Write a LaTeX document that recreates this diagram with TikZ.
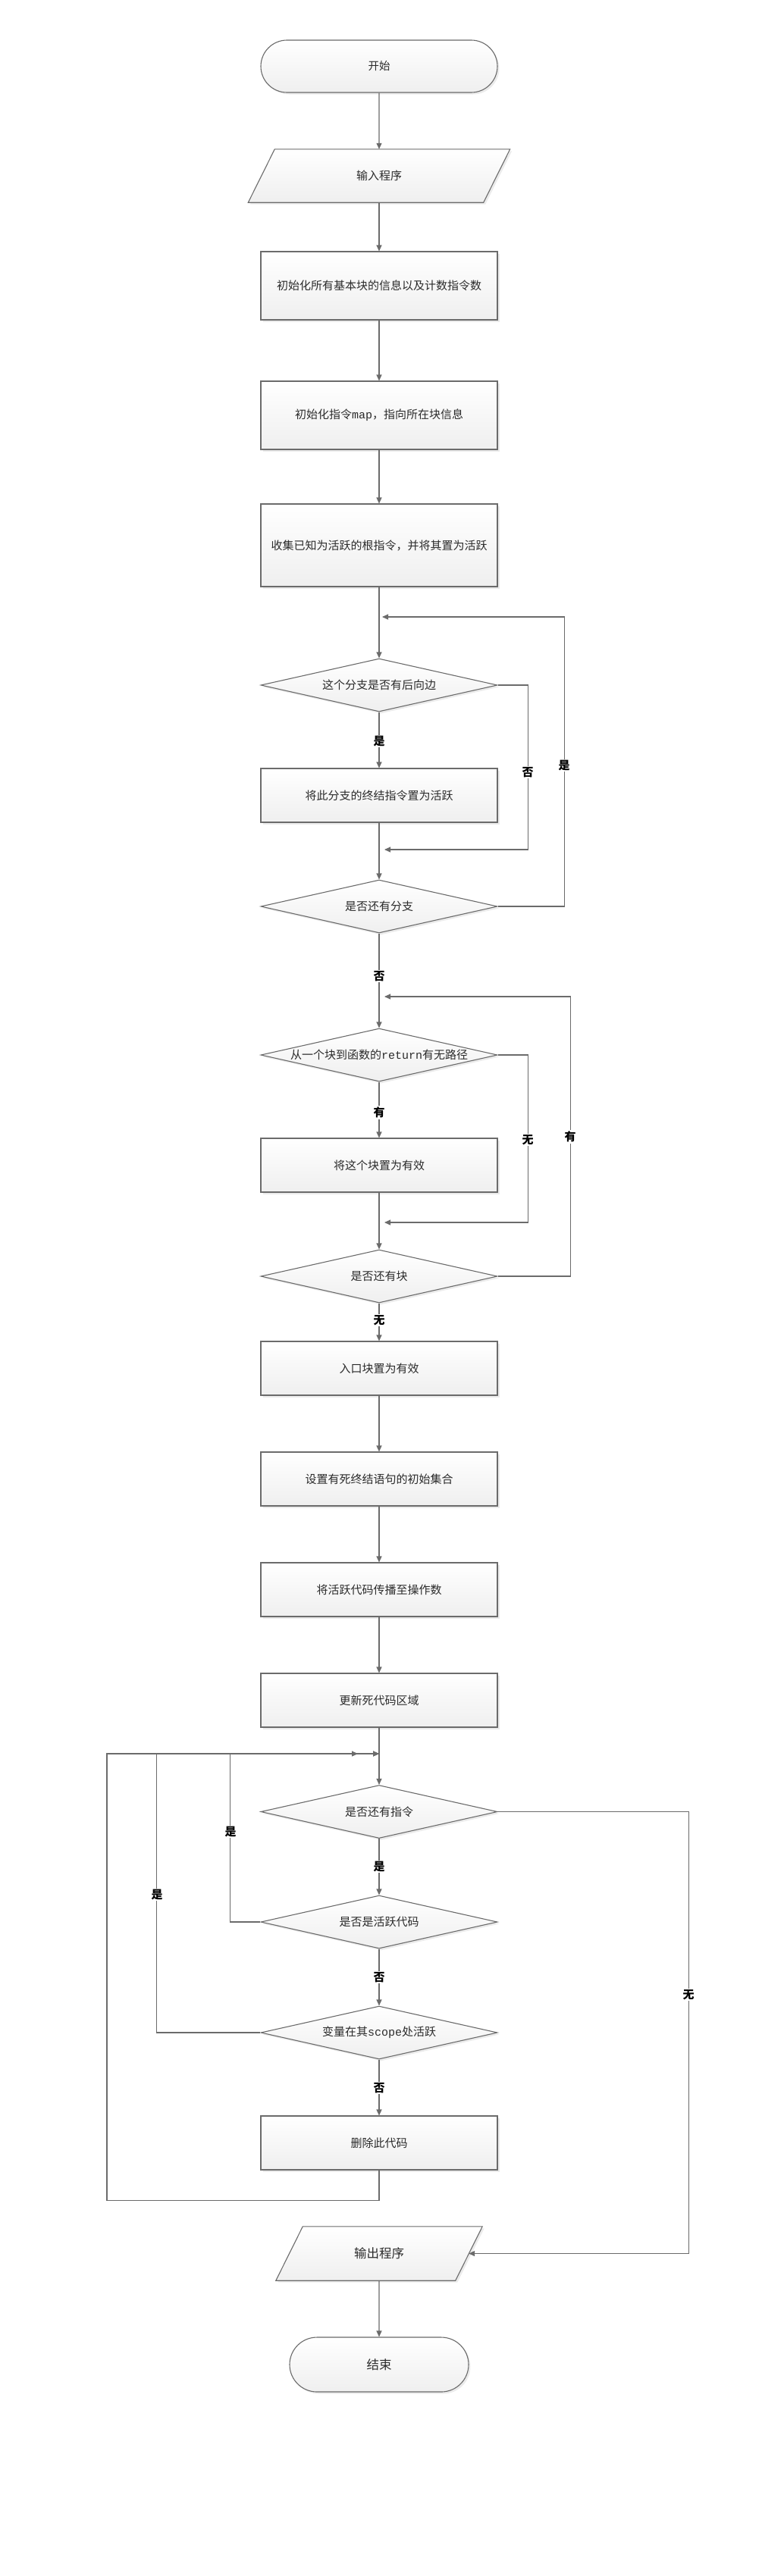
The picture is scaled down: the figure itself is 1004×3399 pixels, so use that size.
\documentclass[tikz,border=0pt]{standalone}
\usepackage{fontspec}
\setmainfont{Noto Sans CJK SC}
\newfontfamily\latmono{Liberation Mono}
\usetikzlibrary{shapes.geometric,shapes.misc,arrows.meta,shadows}
\definecolor{lc}{HTML}{6B6B6B}
\definecolor{fb}{HTML}{EFEFEF}
\definecolor{tc}{HTML}{2B2B2B}
\pgfdeclarelayer{background}
\pgfsetlayers{background,main}
\tikzset{
  look/.style={draw=lc, line width=1.1pt, top color=white, bottom color=fb,
    drop shadow={shadow xshift=2.5pt, shadow yshift=-2.5pt, fill=black, opacity=0.08}},
  base/.style={look, text=tc, font=\fontsize{15}{18}\selectfont, inner sep=0pt},
  proc/.style={base, rectangle, minimum width=312pt, minimum height=71pt},
  dec/.style={base, diamond, aspect=4.46, minimum width=312pt, minimum height=70pt},
  term/.style={base, rounded rectangle, minimum height=70pt},
  iotext/.style={rectangle, text=tc, font=\fontsize{15}{18}\selectfont, inner sep=0pt, minimum height=70pt},
  arr/.style={draw=lc, line width=1.1pt, -{Triangle[length=8pt,width=7pt]}},
  lbl/.style={fill=white, text=black, font=\fontsize{15}{17}\selectfont\bfseries, inner sep=1.5pt},
}
\newcommand{\ioshape}[2]{%
  \begin{pgfonlayer}{background}
  \path[look] (#1.north west) -- ([xshift=#2]#1.north east) -- (#1.south east)
     -- ([xshift=-#2]#1.south west) -- cycle;
  \end{pgfonlayer}}
\begin{document}
\begin{tikzpicture}[x=1pt,y=-1pt]
\begin{pgfonlayer}{background}
\fill[white] (0,0) rectangle (1004,3399);
\end{pgfonlayer}
\useasboundingbox (0,0) rectangle (1004,3399);

% nodes
\node[term, minimum width=312pt, minimum height=69pt, font=\fontsize{14.5}{17}\selectfont] (start) at (500,87.5) {开始};
\node[iotext, minimum width=275pt] (in) at (500,232) {输入程序};
\ioshape{in}{35pt}
\node[proc, minimum height=90pt] (b1) at (500,377) {初始化所有基本块的信息以及计数指令数};
\node[proc, minimum height=90pt] (b2) at (500,548) {初始化指令{\latmono map}，指向所在块信息};
\node[proc, minimum height=109pt] (b3) at (500,719.5) {收集已知为活跃的根指令，并将其置为活跃};
\node[dec] (d1) at (500,904) {这个分支是否有后向边};
\node[proc] (b4) at (500,1049.5) {将此分支的终结指令置为活跃};
\node[dec] (d2) at (500,1196) {是否还有分支};
\node[dec] (d3) at (500,1392) {从一个块到函数的{\latmono return}有无路径};
\node[proc] (b5) at (500,1537.5) {将这个块置为有效};
\node[dec] (d4) at (500,1684) {是否还有块};
\node[proc] (b6) at (500,1805.5) {入口块置为有效};
\node[proc] (b7) at (500,1951.5) {设置有死终结语句的初始集合};
\node[proc] (b8) at (500,2097.5) {将活跃代码传播至操作数};
\node[proc] (b9) at (500,2243.5) {更新死代码区域};
\node[dec] (d5) at (500,2390.5) {是否还有指令};
\node[dec] (d6) at (500,2536) {是否是活跃代码};
\node[dec] (d7) at (500,2682) {变量在其{\latmono scope}处活跃};
\node[proc] (b10) at (500,2827.5) {删除此代码};
\node[iotext, minimum width=201pt, minimum height=71pt, font=\fontsize{16.5}{19}\selectfont] (out) at (500,2973.5) {输出程序};
\ioshape{out}{35.5pt}
\node[term, minimum width=236pt, minimum height=72pt, font=\fontsize{16.5}{19}\selectfont] (end) at (500,3120) {结束};

% free ends
\coordinate (j1) at (504,814);
\coordinate (j2) at (507,1121);
\coordinate (j3) at (507,1315);
\coordinate (j4) at (507,1613);
\coordinate (m1) at (472,2314);
\coordinate (m2) at (500,2314);
\coordinate (oe) at ([xshift=17.5pt]out.east);

% main flow
\draw[arr] (start) -- (in);
\draw[arr] (in) -- (b1);
\draw[arr] (b1) -- (b2);
\draw[arr] (b2) -- (b3);
\draw[arr] (b3) -- (d1);
\draw[arr] (d1) -- (b4);
\draw[arr] (b4) -- (d2);
\draw[arr] (d2) -- (d3);
\draw[arr] (d3) -- (b5);
\draw[arr] (b5) -- (d4);
\draw[arr] (d4) -- (b6);
\draw[arr] (b6) -- (b7);
\draw[arr] (b7) -- (b8);
\draw[arr] (b8) -- (b9);
\draw[arr] (b9) -- (d5);
\draw[arr] (d5) -- (d6);
\draw[arr] (d6) -- (d7);
\draw[arr] (d7) -- (b10);
\draw[arr] (out) -- (end);

% loops
\draw[arr] (d1.east) -- ++(40,0) |- (j2);
\draw[arr] (d2.east) -- ++(88,0) |- (j1);
\draw[arr] (d3.east) -- ++(40,0) |- (j4);
\draw[arr] (d4.east) -- ++(96,0) |- (j3);
\draw[arr] (b10.south) -- ++(0,40) -- ++(-359,0) |- (m1);
\draw[arr] (d6.west) -- ++(-40,0) |- (m2);
\draw[arr] (d7.west) -- ++(-137,0) |- (m2);
\draw[arr] (d5.east) -- ++(252,0) |- (oe);

% labels
\node[lbl] (l1) at (500,978) {是};
\node[lbl] (l2) at (696,1019) {否};
\node[lbl] (l3) at (744,1010) {是};
\node[lbl] (l4) at (500,1288) {否};
\node[lbl] (l5) at (500,1468) {有};
\node[lbl] (l6) at (696,1504) {无};
\node[lbl] (l7) at (752,1500) {有};
\node[lbl] (l8) at (500,1742) {无};
\node[lbl] (l9) at (500,2463) {是};
\node[lbl] (l10) at (500,2609) {否};
\node[lbl] (l11) at (500,2755) {否};
\node[lbl] (l12) at (304,2417) {是};
\node[lbl] (l13) at (207,2500) {是};
\node[lbl] (l14) at (908,2632) {无};
\end{tikzpicture}
\end{document}
